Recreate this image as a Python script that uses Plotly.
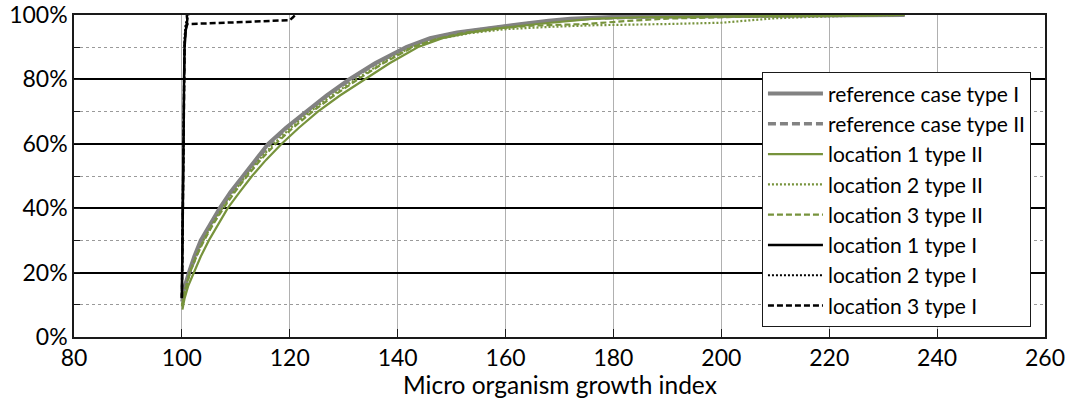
import plotly.graph_objects as go

# ---------------- data (percent of cases vs growth index) ----------------
ref1_x = [100.0, 100.4, 101.3, 102.3, 103.5, 105.2, 107.0, 109.0, 111.3, 113.5, 116.0, 119.3, 123.0, 126.8,
          131.0, 135.8, 141.6, 146.0, 151.0, 157.0, 163.0, 168.0, 172.0, 180.0, 195.0, 215.0, 234.0]
ref1_y = [12, 15, 20, 25, 30, 35, 40, 45, 50, 55, 60, 65, 70, 75,
          80, 85, 90, 92.8, 94.6, 96.0, 97.2, 98.2, 98.8, 99.4, 99.7, 99.85, 100]

ref2_x = [100.0, 100.5, 101.4, 102.5, 103.7, 105.3, 107.2, 109.2, 111.5, 113.8, 116.3, 119.5, 123.2, 127.0,
          131.3, 136.0, 141.8, 146.3, 151.5, 157.5, 163.5, 169.0, 175.0, 185.0, 200.0, 218.0, 234.0]
ref2_y = [11, 15, 20, 25, 30, 35, 40, 45, 50, 55, 60, 65, 70, 75,
          80, 85, 90, 92.8, 94.6, 96.0, 97.2, 98.2, 98.9, 99.4, 99.7, 99.85, 100]

loc1_II_x = [100.1, 100.5, 101.2, 102.2, 103.5, 105.0, 106.7, 108.5, 110.7, 113.0, 115.6, 118.5, 121.7, 125.2,
             129.3, 133.8, 138.5, 143.7, 148.3, 153.6, 159.5, 166.0, 171.0, 176.0, 185.0, 200.0, 220.0, 234.0]
loc1_II_y = [8.5, 12, 16, 20, 25, 30, 35, 40, 45, 50, 55, 60, 65, 70,
             75, 80, 85, 90, 92.8, 94.6, 96.0, 97.2, 98.1, 98.8, 99.3, 99.6, 99.8, 100]

loc2_II_x = [100.0, 100.5, 101.4, 102.6, 104.0, 105.6, 107.5, 109.6, 111.9, 114.3, 117.0, 120.2, 123.8, 127.8,
             132.2, 137.0, 142.5, 147.5, 153.5, 160.0, 168.0, 176.0, 190.0, 200.0, 205.0, 210.0, 218.0, 232.0]
loc2_II_y = [10, 14, 20, 25, 30, 35, 40, 45, 50, 55, 60, 65, 70, 75,
             80, 85, 90, 92.6, 94.4, 95.6, 96.3, 96.8, 97.2, 97.6, 98.3, 99.0, 99.5, 100]

loc3_II_x = [100.0, 100.5, 101.5, 102.7, 104.1, 105.8, 107.7, 109.8, 112.1, 114.6, 117.4, 120.6, 124.2, 128.2,
             132.6, 137.3, 142.8, 147.5, 152.5, 158.0, 165.0, 175.0, 182.0, 190.0, 205.0, 220.0, 233.0]
loc3_II_y = [9.5, 13.5, 20, 25, 30, 35, 40, 45, 50, 55, 60, 65, 70, 75,
             80, 85, 90, 92.7, 94.5, 95.8, 96.7, 97.2, 98.1, 98.9, 99.5, 99.8, 100]

loc1_I_x = [100.0, 100.1, 100.2, 100.3, 100.4, 100.5, 100.7, 100.9, 101.0, 100.9]
loc1_I_y = [12.5, 25, 40, 60, 80, 90, 95, 97, 98.5, 100]

loc2_I_x = [100.0, 100.1, 100.2, 100.3, 100.4, 100.5, 100.7, 101.0, 101.2]
loc2_I_y = [13, 30, 50, 70, 85, 93, 97, 99, 100]

loc3_I_x = [100.0, 100.1, 100.2, 100.3, 100.4, 100.5, 100.7, 101.0, 105.0, 110.0, 115.0, 120.0, 120.6, 121.0]
loc3_I_y = [12, 28, 45, 65, 82, 91, 95.5, 97.2, 97.4, 97.7, 98.0, 98.4, 99.3, 100]

x_ticks = [80, 100, 120, 140, 160, 180, 200, 220, 240, 260]
y_ticks = [0, 20, 40, 60, 80, 100]
x_title = "Micro organism growth index"

GREY = "#828282"
GREEN = "#77933C"
BLACK = "#000000"
TXT = "#000000"
FONT = "Lato"

series = [
    ("reference case type I", ref1_x, ref1_y, GREY, 4, "solid"),
    ("reference case type II", ref2_x, ref2_y, GREY, 3.5, "8px,4px"),
    ("location 1 type II", loc1_II_x, loc1_II_y, GREEN, 2.2, "solid"),
    ("location 2 type II", loc2_II_x, loc2_II_y, GREEN, 2.2, "2px,2px"),
    ("location 3 type II", loc3_II_x, loc3_II_y, GREEN, 2.2, "6px,3px"),
    ("location 1 type I", loc1_I_x, loc1_I_y, BLACK, 2.5, "solid"),
    ("location 2 type I", loc2_I_x, loc2_I_y, BLACK, 2.2, "2px,2px"),
    ("location 3 type I", loc3_I_x, loc3_I_y, BLACK, 2.5, "6px,3px"),
]

fig = go.Figure()
for i, (name, xs, ys, col, w, dash) in enumerate(series):
    fig.add_trace(go.Scatter(x=xs, y=ys, mode="lines", name=name, legendgroup=f"g{i}",
                             line=dict(color=col, width=w, dash=dash)))

fig.update_layout(
    width=1070, height=401,
    margin=dict(l=74, r=25, t=15, b=64, autoexpand=False),
    paper_bgcolor="white", plot_bgcolor="white",
    font=dict(family=FONT, size=23, color=TXT),
    showlegend=True,
    legend=dict(x=0.7085, y=0.822, xanchor="left", yanchor="top",
                bgcolor="white", bordercolor="#1a1a1a", borderwidth=1,
                font=dict(family=FONT, size=21, color=TXT),
                tracegroupgap=5, traceorder="normal", itemwidth=55),
    annotations=[dict(text=x_title, xref="paper", yref="paper", x=0.5, y=-0.146,
                      xanchor="center", yanchor="middle", showarrow=False,
                      font=dict(family=FONT, size=24.5, color=TXT))],
)
fig.update_xaxes(
    range=[80, 260], tickvals=x_ticks, ticktext=[str(v) for v in x_ticks],
    automargin=False,
    showgrid=True, gridcolor="#b0b0b0", gridwidth=1,
    showline=True, linecolor="#1a1a1a", linewidth=1.5, mirror=True,
    ticks="inside", ticklen=8, tickcolor="#1a1a1a", tickwidth=1,
    zeroline=False,
)
fig.update_yaxes(
    range=[0, 100], tickvals=y_ticks, ticktext=[f"{v}%" for v in y_ticks],
    automargin=False,
    showgrid=True, gridcolor="#000000", gridwidth=2,
    minor=dict(dtick=10, showgrid=True, gridcolor="#9a9a9a", griddash="dot", gridwidth=1,
               ticks="inside", ticklen=6, tickcolor="#1a1a1a"),
    showline=True, linecolor="#1a1a1a", linewidth=1.5, mirror=True,
    ticks="inside", ticklen=6, tickcolor="#1a1a1a",
    zeroline=False,
)

fig.write_html("out.html", config={"displayModeBar": False},
               post_script="document.body.style.margin='0';document.body.style.overflow='hidden';")
